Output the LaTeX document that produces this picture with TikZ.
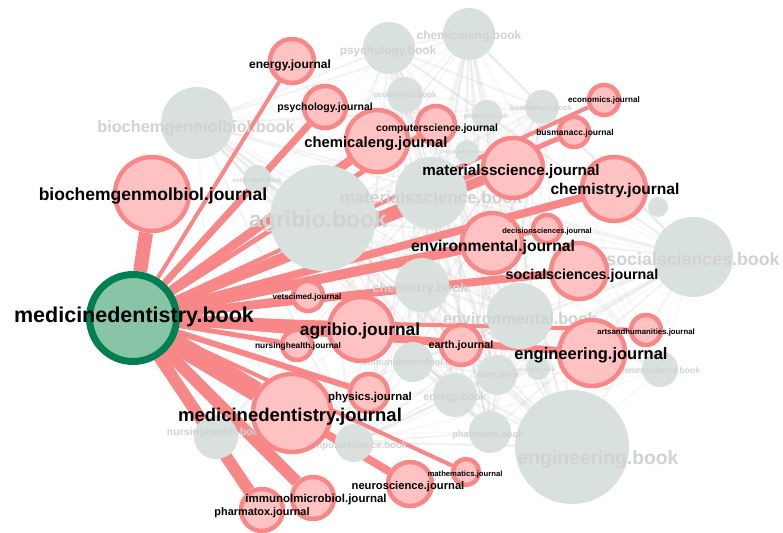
\documentclass[tikz,border=0pt]{standalone}
\usepackage{fontspec}
\setmainfont{Liberation Sans}
\usepackage{xcolor}
\usepackage{tikz}
\usetikzlibrary{backgrounds}

\definecolor{bookgrey}{RGB}{216,225,222}
\definecolor{labelgrey}{RGB}{208,211,211}
\definecolor{edgepink}{RGB}{248,136,136}
\definecolor{nodepink}{RGB}{255,194,194}
\definecolor{medgreen}{RGB}{0,128,82}
\definecolor{medfill}{RGB}{136,196,166}

\begin{document}
\begin{tikzpicture}[
  x=1pt, y=-1pt,
  book/.style={circle, fill=bookgrey, inner sep=0pt, minimum size=#1},
  journal/.style={circle, draw=edgepink, line width=4.5pt, fill=nodepink,
    inner sep=0pt, minimum size=#1},
  lab/.style={font=\bfseries\fontsize{#1}{#1}\selectfont, inner sep=0pt},
  jlab/.style={lab=#1, text=black},
  blab/.style={lab=#1, text=labelgrey},
  link/.style={draw=edgepink, line cap=butt},
  haze/.style={draw=black!30, line width=2pt, opacity=0.07}
]
\useasboundingbox (0,0) rectangle (783,532);

% book nodes
\node[book=52] (bchemicaleng) at (469,34) {};
\node[book=52] (bpsychology) at (389,48) {};
\node[book=36] (beconomics) at (405,95) {};
\node[book=30] (bphysics) at (487,115) {};
\node[book=34] (bbusmanacc) at (542,107) {};
\node[book=72] (bbiochem) at (197,123) {};
\node[book=106] (bagribio) at (323,218) {};
\node[book=72] (bmaterials) at (431,193) {};
\node[book=28] (bvetscimed) at (257,179) {};
\node[book=24] (bdecision) at (467,152) {};
\node[book=20] (bsmall) at (658,207) {};
\node[book=80] (bsocial) at (693,257) {};
\node[book=54] (bchemistry) at (422,285) {};
\node[book=66] (benvironmental) at (520,316) {};
\node[book=40] (bimmunol) at (413,362) {};
\node[book=40] (bearth) at (497,375) {};
\node[book=24] (bmathematics) at (538,368) {};
\node[book=44] (benergy) at (455,395) {};
\node[book=42] (bpharmatox) at (490,432) {};
\node[book=114] (bengineering) at (572,447) {};
\node[book=36] (bneuroscience) at (660,369) {};
\node[book=38] (bcomputer) at (354,443) {};
\node[book=44] (bnursing) at (216,437) {};

\node[blab=12] (bchemicaleng-l) at (469,36) {chemicaleng.book};
\node[blab=11.8] (bpsychology-l) at (388,51) {psychology.book};
\node[blab=8] (beconomics-l) at (405,95) {economics.book};
\node[blab=6.9] (bphysics-l) at (486,117) {physics.book};
\node[blab=7.6] (bbusmanacc-l) at (541,108) {busmanacc.book};
\node[blab=16.3] (bbiochem-l) at (196,128) {biochemgenmolbiol.book};
\node[blab=23] (bagribio-l) at (318,222) {agribio.book};
\node[blab=17] (bmaterials-l) at (431,197) {materialsscience.book};
\node[blab=6.5] (bvetscimed-l) at (257,180) {vetscimed.book};
\node[blab=4.3] (bdecision-l) at (465,152) {decisionsciences.book};
\node[blab=17.8] (bsocial-l) at (693,259) {socialsciences.book};
\node[blab=13] (bchemistry-l) at (420,289) {chemistry.book};
\node[blab=16.2] (benvironmental-l) at (520,319) {environmental.book};
\node[blab=9.3] (bimmunol-l) at (415,362) {immunolmicrobiol.book};
\node[blab=8.4] (bearth-l) at (498,374) {earth.book};
\node[blab=5] (bmathematics-l) at (534,370) {mathematics.book};
\node[blab=10.8] (benergy-l) at (455,398) {energy.book};
\node[blab=9.1] (bpharmatox-l) at (488,435) {pharmatox.book};
\node[blab=9.6] (bcomputer-l) at (355,446) {computerscience.book};
\node[blab=10.6] (bnursing-l) at (216,433) {nursinghealth.book};
\node[blab=19.3] (bengineering-l) at (598,460) {engineering.book};
\node[blab=8.6] (bneuroscience-l) at (661,370) {neuroscience.book};

% journal nodes
\node[journal=44] (jenergy) at (292,61) {};
\node[journal=42] (jpsychology) at (325,107) {};
\node[journal=62] (jchemicaleng) at (377,141) {};
\node[journal=38] (jcomputer) at (436,125) {};
\node[journal=60] (jmaterials) at (513,168) {};
\node[journal=30] (jbusmanacc) at (574,132) {};
\node[journal=30] (jeconomics) at (604,100) {};
\node[journal=64] (jchemistry) at (614,189) {};
\node[journal=28] (jdecision) at (547,229) {};
\node[journal=60] (jenvironmental) at (492,243) {};
\node[journal=56] (jsocial) at (579,271) {};
\node[journal=30] (jvetscimed) at (308,296) {};
\node[journal=64] (jagribio) at (361,329) {};
\node[journal=30] (jnursing) at (297,345) {};
\node[journal=40] (jearth) at (461,345) {};
\node[journal=66] (jengineering) at (592,353) {};
\node[journal=30] (jarts) at (646,330) {};
\node[journal=38] (jphysics) at (369,393) {};
\node[journal=78] (jmedicine) at (292,413) {};
\node[journal=26] (jmathematics) at (466,472) {};
\node[journal=44] (jneuroscience) at (410,484) {};
\node[journal=42] (jimmunol) at (313,498) {};
\node[journal=42] (jpharmatox) at (262,510) {};
\node[journal=74] (jbiochem) at (152,194) {};

\node[circle, draw=medgreen, line width=7pt, fill=medfill, inner sep=0pt,
  minimum size=87] (medbook) at (133,318) {};

% links and background haze
\begin{scope}[on background layer]
\fill[white] (0,0) rectangle (783,532);
\foreach \a in {bchemicaleng,bpsychology,beconomics,bphysics,bbusmanacc,bbiochem,
    bagribio,bmaterials,bvetscimed,bdecision,bsocial,bchemistry,benvironmental,
    bimmunol,bearth,bmathematics,benergy,bpharmatox,bengineering,bcomputer}
  \foreach \b in {bchemicaleng,bpsychology,bbusmanacc,bbiochem,bagribio,bmaterials,
      bsocial,bchemistry,benvironmental,bimmunol,bearth,benergy,bpharmatox,
      bengineering,bneuroscience,bcomputer,bnursing}
    \draw[haze] (\a) -- (\b);
\foreach \j/\w in {jbiochem/14, jenergy/4, jpsychology/7, jchemicaleng/9,
    jcomputer/5, jmaterials/10, jbusmanacc/5, jeconomics/4, jchemistry/8,
    jdecision/4, jenvironmental/10, jsocial/8, jvetscimed/5, jagribio/12,
    jnursing/5, jearth/6, jengineering/7, jarts/4, jphysics/6, jmedicine/20,
    jmathematics/4, jneuroscience/8, jimmunol/12, jpharmatox/12}
  \draw[link, line width=\w pt] (medbook) -- (\j);
\end{scope}

% journal labels
\node[jlab=12] (jenergy-l) at (290,65) {energy.journal};
\node[jlab=10.5] (jpsychology-l) at (325,108) {psychology.journal};
\node[jlab=14.8] (jchemicaleng-l) at (376,144) {chemicaleng.journal};
\node[jlab=10.3] (jcomputer-l) at (437,129) {computerscience.journal};
\node[jlab=15.2] (jmaterials-l) at (511,172) {materialsscience.journal};
\node[jlab=8.5] (jbusmanacc-l) at (575,133) {busmanacc.journal};
\node[jlab=8.1] (jeconomics-l) at (604,100) {economics.journal};
\node[jlab=15.6] (jchemistry-l) at (615,190) {chemistry.journal};
\node[jlab=7.5] (jdecision-l) at (547,232) {decisionsciences.journal};
\node[jlab=15.7] (jenvironmental-l) at (493,247) {environmental.journal};
\node[jlab=14.3] (jsocial-l) at (582,276) {socialsciences.journal};
\node[jlab=8.1] (jvetscimed-l) at (307,297) {vetscimed.journal};
\node[jlab=17.3] (jagribio-l) at (360,331) {agribio.journal};
\node[jlab=8.4] (jnursing-l) at (298,346) {nursinghealth.journal};
\node[jlab=10.7] (jearth-l) at (461,346) {earth.journal};
\node[jlab=16.5] (jengineering-l) at (591,355) {engineering.journal};
\node[jlab=7.8] (jarts-l) at (646,332) {artsandhumanities.journal};
\node[jlab=11.4] (jphysics-l) at (370,398) {physics.journal};
\node[jlab=18.5] (jmedicine-l) at (290,417) {medicinedentistry.journal};
\node[jlab=7.7] (jmathematics-l) at (465,475) {mathematics.journal};
\node[jlab=11.2] (jneuroscience-l) at (408,487) {neuroscience.journal};
\node[jlab=11.5] (jimmunol-l) at (316,500) {immunolmicrobiol.journal};
\node[jlab=10.9] (jpharmatox-l) at (262,513) {pharmatox.journal};
\node[jlab=17.5] (jbiochem-l) at (153,196) {biochemgenmolbiol.journal};
\node[jlab=21.5] (medbook-l) at (134,317) {medicinedentistry.book};
\end{tikzpicture}
\end{document}
